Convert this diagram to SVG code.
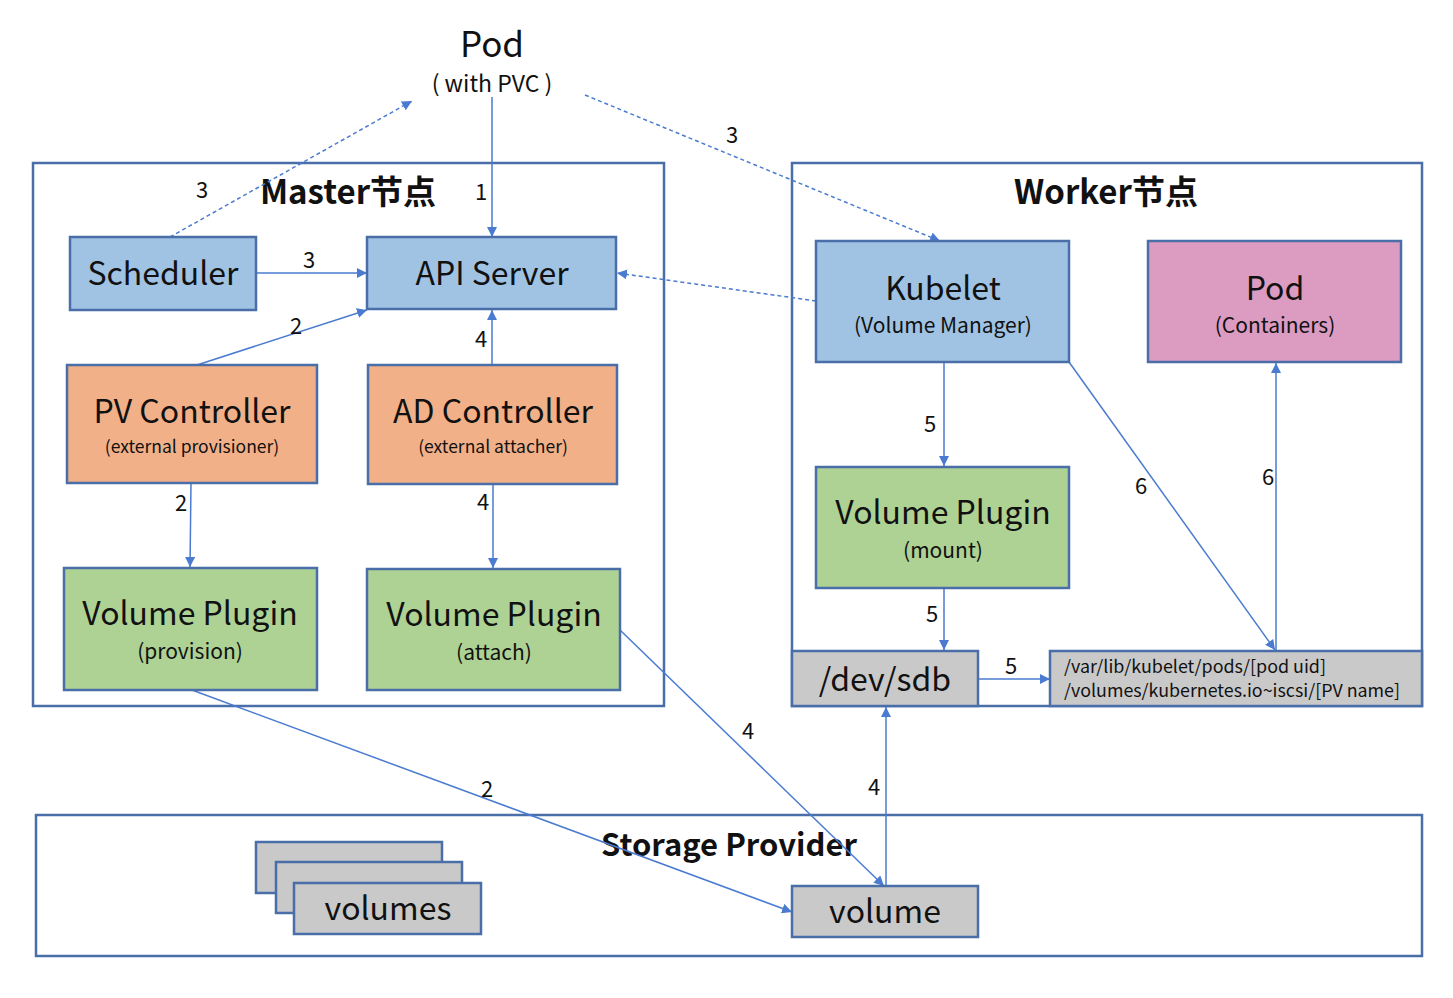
<svg xmlns="http://www.w3.org/2000/svg" width="1453" height="998" viewBox="0 0 1453 998">
<defs>
<style>
text{font-family:"Noto Sans CJK SC","Noto Sans",sans-serif;fill:#111;text-anchor:middle}
.box{stroke:#4a6ea8;stroke-width:2.5}
.cont{fill:none;stroke:#4a6ea8;stroke-width:2.5}
.blue{fill:#a0c3e4}.orange{fill:#f1b088}.green{fill:#aed294}.pink{fill:#dc9bc0}.gray{fill:#c9c9c9}
.big{font-size:32px}
.sub{font-size:21px}
.small{font-size:17.5px}
.num{font-size:22px}
.title{font-size:33px;font-weight:bold}
.ln{stroke:#4a7bd0;stroke-width:1.5;fill:none}
.dash{stroke-dasharray:4 3}
</style>
<marker id="ah" viewBox="0 0 10 10" refX="10" refY="5" markerWidth="10" markerHeight="10" markerUnits="userSpaceOnUse" orient="auto">
<path d="M0,0 L10,5 L0,10 z" fill="#4a7bd0"/>
</marker>
</defs>
<rect width="1453" height="998" fill="#fff"/>

<g id="pod-top">
<text x="492" y="57" style="font-size:35px">Pod</text>
<text x="492" y="92" style="font-size:23px">( with PVC )</text>
</g>

<g id="master">
<rect class="cont" x="33" y="163" width="631" height="543"/>
<text class="title" x="348" y="204">Master节点</text>
</g>
<g id="worker">
<rect class="cont" x="792" y="163" width="630" height="543"/>
<text class="title" x="1106" y="204">Worker节点</text>
</g>
<g id="storage">
<rect class="cont" x="36" y="815" width="1386" height="141"/>
<text class="title" x="729" y="856" style="font-size:31px">Storage Provider</text>
</g>

<g id="connectors">
<line class="ln" x1="492" y1="97" x2="492" y2="237" marker-end="url(#ah)"/>
<line class="ln dash" x1="170" y1="237" x2="412" y2="101" marker-end="url(#ah)"/>
<line class="ln dash" x1="585" y1="95" x2="940" y2="241" marker-end="url(#ah)"/>
<line class="ln" x1="256" y1="273" x2="367" y2="273" marker-end="url(#ah)"/>
<line class="ln" x1="197" y1="365" x2="367" y2="310" marker-end="url(#ah)"/>
<line class="ln" x1="492" y1="365" x2="492" y2="310" marker-end="url(#ah)"/>
<line class="ln dash" x1="816" y1="301" x2="617" y2="273" marker-end="url(#ah)"/>
<line class="ln" x1="191" y1="483" x2="190" y2="567" marker-end="url(#ah)"/>
<line class="ln" x1="493" y1="484" x2="493" y2="568" marker-end="url(#ah)"/>
<line class="ln" x1="192" y1="690" x2="792" y2="912" marker-end="url(#ah)"/>
<line class="ln" x1="620" y1="630" x2="884" y2="886" marker-end="url(#ah)"/>
<line class="ln" x1="886" y1="886" x2="886" y2="707" marker-end="url(#ah)"/>
<line class="ln" x1="944" y1="362" x2="944" y2="466" marker-end="url(#ah)"/>
<line class="ln" x1="944" y1="588" x2="944" y2="650" marker-end="url(#ah)"/>
<line class="ln" x1="978" y1="679" x2="1050" y2="679" marker-end="url(#ah)"/>
<line class="ln" x1="1069" y1="362" x2="1275" y2="650" marker-end="url(#ah)"/>
<line class="ln" x1="1276" y1="651" x2="1276" y2="363" marker-end="url(#ah)"/>
<text class="num" x="481" y="200">1</text>
<text class="num" x="202" y="198">3</text>
<text class="num" x="732" y="143">3</text>
<text class="num" x="309" y="268">3</text>
<text class="num" x="296" y="334">2</text>
<text class="num" x="481" y="347">4</text>
<text class="num" x="181" y="511">2</text>
<text class="num" x="483" y="510">4</text>
<text class="num" x="487" y="797">2</text>
<text class="num" x="748" y="739">4</text>
<text class="num" x="874" y="795">4</text>
<text class="num" x="930" y="432">5</text>
<text class="num" x="932" y="622">5</text>
<text class="num" x="1011" y="674">5</text>
<text class="num" x="1141" y="494">6</text>
<text class="num" x="1268" y="485">6</text>
</g>

<g id="scheduler">
<rect class="box blue" x="70" y="237" width="186" height="73"/>
<text class="big" x="163" y="285">Scheduler</text>
</g>
<g id="api-server">
<rect class="box blue" x="367" y="237" width="249" height="72"/>
<text class="big" x="492" y="285">API Server</text>
</g>
<g id="pv-controller">
<rect class="box orange" x="67" y="365" width="250" height="118"/>
<text class="big" x="192" y="423">PV Controller</text>
<text class="small" x="192" y="453">(external provisioner)</text>
</g>
<g id="ad-controller">
<rect class="box orange" x="368" y="365" width="249" height="119"/>
<text class="big" x="493" y="423">AD Controller</text>
<text class="small" x="493" y="453">(external attacher)</text>
</g>
<g id="vp-provision">
<rect class="box green" x="64" y="568" width="253" height="122"/>
<text class="big" x="190" y="625">Volume Plugin</text>
<text class="sub" x="190" y="659">(provision)</text>
</g>
<g id="vp-attach">
<rect class="box green" x="367" y="569" width="253" height="121"/>
<text class="big" x="494" y="626">Volume Plugin</text>
<text class="sub" x="494" y="660">(attach)</text>
</g>
<g id="kubelet">
<rect class="box blue" x="816" y="241" width="253" height="121"/>
<text class="big" x="943" y="300">Kubelet</text>
<text class="sub" x="943" y="333">(Volume Manager)</text>
</g>
<g id="pod-worker">
<rect class="box pink" x="1148" y="241" width="253" height="121"/>
<text class="big" x="1275" y="300">Pod</text>
<text class="sub" x="1275" y="333">(Containers)</text>
</g>
<g id="vp-mount">
<rect class="box green" x="816" y="467" width="253" height="121"/>
<text class="big" x="943" y="524">Volume Plugin</text>
<text class="sub" x="943" y="558">(mount)</text>
</g>
<g id="dev-sdb">
<rect class="box gray" x="792" y="651" width="186" height="55"/>
<text class="big" x="885" y="691">/dev/sdb</text>
</g>
<g id="mount-path">
<rect class="box gray" x="1050" y="651" width="372" height="55"/>
<text x="1064" y="673" style="font-size:17.5px;text-anchor:start" textLength="262" lengthAdjust="spacingAndGlyphs">/var/lib/kubelet/pods/[pod uid]</text>
<text x="1064" y="697" style="font-size:17.5px;text-anchor:start" textLength="336" lengthAdjust="spacingAndGlyphs">/volumes/kubernetes.io~iscsi/[PV name]</text>
</g>
<g id="volumes">
<rect class="box gray" x="256" y="842" width="186" height="51"/>
<rect class="box gray" x="276" y="862" width="186" height="51"/>
<rect class="box gray" x="294" y="883" width="187" height="51"/>
<text class="big" x="388" y="920">volumes</text>
</g>
<g id="volume">
<rect class="box gray" x="792" y="886" width="186" height="51"/>
<text class="big" x="885" y="923">volume</text>
</g>
</svg>
